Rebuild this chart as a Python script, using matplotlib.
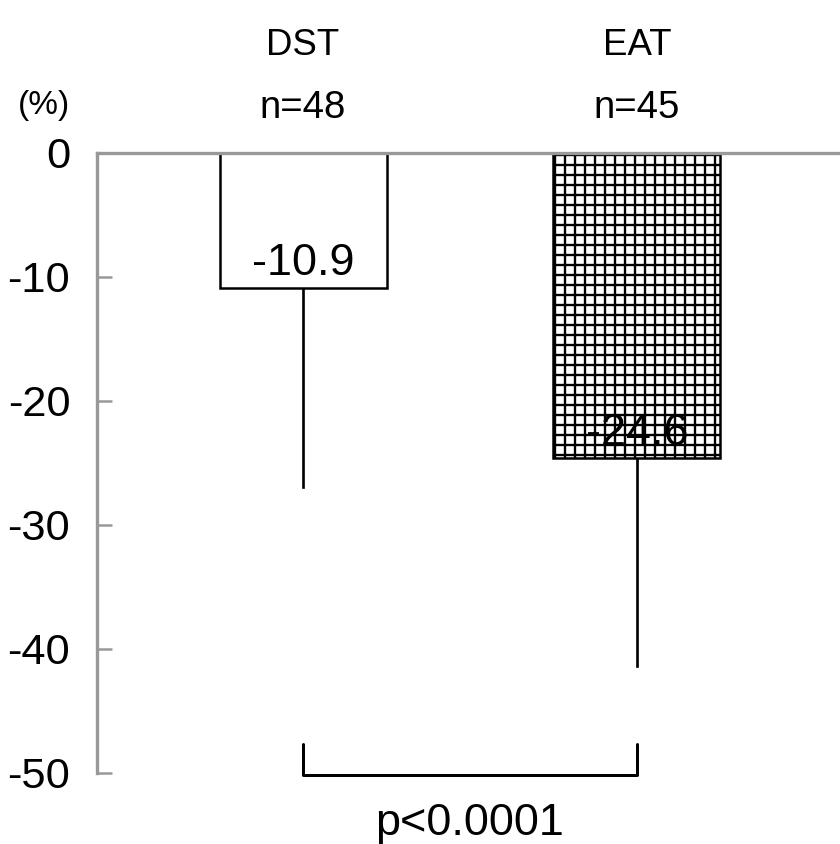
import matplotlib.pyplot as plt

groups = ['DST', 'EAT']
counts = ['n=48', 'n=45']
means = [-10.9, -24.6]
sds = [16.0, 16.8]
hatches = ['', '++']
p_text = 'p<0.0001'

plt.rcParams['font.family'] = ['Liberation Sans', 'DejaVu Sans']
plt.rcParams['hatch.linewidth'] = 1.4

fig = plt.figure(figsize=(7.0, 844 / 120), dpi=120)
ax = fig.add_axes([97 / 840, 71 / 844, 743 / 840, 620 / 844])

x = list(range(len(groups)))
for i in x:
    ax.bar(i, means[i], width=0.5, color='white', edgecolor='black',
           linewidth=1.5, hatch=hatches[i], zorder=2)
    # one-sided error bar, downward only
    ax.plot([i, i], [means[i], means[i] - sds[i]], color='black', lw=1.6, zorder=1)
    ax.text(i, means[i] + 0.3, f'{means[i]:.1f}', ha='center', va='bottom',
            fontsize=27, zorder=3)
    ax.text(i, 8.7, groups[i], ha='center', va='center', fontsize=22, clip_on=False)
    ax.text(i, 3.6, counts[i], ha='center', va='center', fontsize=23, clip_on=False)

ax.set_xlim(-0.617, 1.608)
ax.set_ylim(-50, 0)
ax.set_yticks([0, -10, -20, -30, -40, -50])
ax.set_yticklabels(['0', '-10', '-20', '-30', '-40', '-50'], fontsize=26)
ax.set_xticks([])
ax.tick_params(axis='y', direction='in', length=9, width=1.5, color='#999999', pad=16)

for s in ['right', 'bottom']:
    ax.spines[s].set_visible(False)
for s in ['left', 'top']:
    ax.spines[s].set_color('#999999')
    ax.spines[s].set_linewidth(2)

ax.text(-0.775, 3.8, '(%)', ha='center', va='center', fontsize=20, clip_on=False)

# significance bracket below the axis
ax.plot([0, 0, 1, 1], [-47.7, -50.2, -50.2, -47.7], color='black', lw=1.8,
        clip_on=False, solid_joinstyle='round', solid_capstyle='round')
ax.text(0.5, -54.1, p_text, ha='center', va='center', fontsize=27, clip_on=False)

fig.savefig('out.png', dpi=120)
